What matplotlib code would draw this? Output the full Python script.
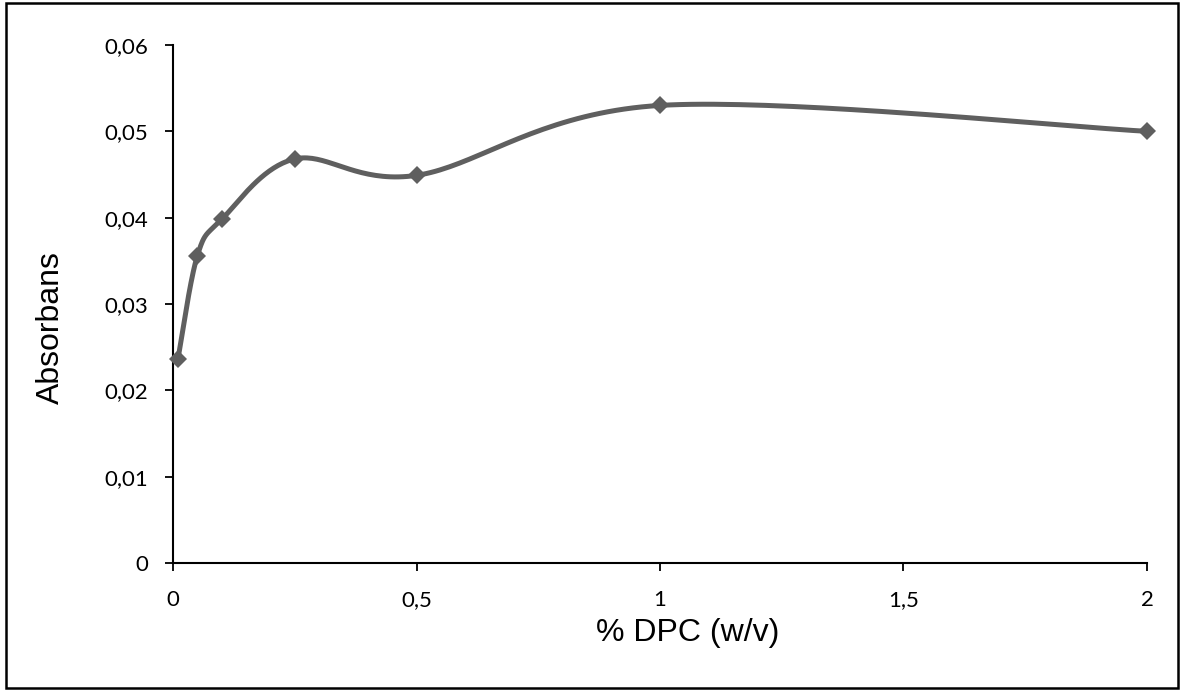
import numpy as np
import matplotlib
matplotlib.use('Agg')
import matplotlib.pyplot as plt
from matplotlib.patches import Rectangle
from matplotlib.ticker import FuncFormatter

# % DPC (w/v) and absorbance
dpc = [0.01, 0.05, 0.1, 0.25, 0.5, 1.0, 2.0]
absorbans = [0.0236, 0.0356, 0.0398, 0.0468, 0.0449, 0.0530, 0.0500]

x_ticks = [0, 0.5, 1, 1.5, 2]
y_ticks = [0, 0.01, 0.02, 0.03, 0.04, 0.05, 0.06]

LINE_COLOR = '#5f5f5f'
TICK_FONT = 'Lato'
LABEL_FONT = 'Liberation Sans'


def smooth_curve(x, y, steps=40):
    # excel-like smoothed line: bezier segments with catmull-rom control points
    x = np.asarray(x, float)
    y = np.asarray(y, float)
    n = len(x)
    xs, ys = [], []
    for i in range(n - 1):
        p0 = np.array([x[max(i - 1, 0)], y[max(i - 1, 0)]])
        p1 = np.array([x[i], y[i]])
        p2 = np.array([x[i + 1], y[i + 1]])
        p3 = np.array([x[min(i + 2, n - 1)], y[min(i + 2, n - 1)]])
        c1 = p1 + (p2 - p0) / 6
        c2 = p2 - (p3 - p1) / 6
        t = np.linspace(0, 1, steps)[:, None]
        pts = ((1 - t) ** 3) * p1 + 3 * ((1 - t) ** 2) * t * c1 \
            + 3 * (1 - t) * t ** 2 * c2 + t ** 3 * p2
        xs.extend(pts[:, 0])
        ys.extend(pts[:, 1])
    return xs, ys


def comma(v, pos):
    s = f'{v:g}'
    return s.replace('.', ',')


fig = plt.figure(figsize=(11.81, 6.91), dpi=100)
ax = fig.add_axes([0.1465, 0.1852, 0.9712 - 0.1465, 0.9349 - 0.1852])

sx, sy = smooth_curve(dpc, absorbans)
ax.plot(sx, sy, color=LINE_COLOR, lw=3.6, solid_capstyle='round', zorder=3)
ax.plot(dpc, absorbans, linestyle='none', marker='D', ms=9.5,
        color=LINE_COLOR, mew=0, zorder=4, clip_on=False)

ax.set_xlim(0, 2)
ax.set_ylim(0, 0.06)
ax.set_xticks(x_ticks)
ax.set_yticks(y_ticks)
ax.xaxis.set_major_formatter(FuncFormatter(comma))
ax.yaxis.set_major_formatter(FuncFormatter(comma))

for s in ['top', 'right']:
    ax.spines[s].set_visible(False)
for s in ['left', 'bottom']:
    ax.spines[s].set_linewidth(1.5)
    ax.spines[s].set_color('black')

ax.tick_params(direction='out', length=5.8, width=1.3, colors='black')
ax.tick_params(axis='x', pad=13.5)
ax.tick_params(axis='y', pad=12)
for lab in ax.get_xticklabels() + ax.get_yticklabels():
    lab.set_fontfamily(TICK_FONT)
    lab.set_fontsize(16)

ax.set_xlabel('% DPC (w/v)', fontsize=23, family=LABEL_FONT, va='center')
ax.set_ylabel('Absorbans', fontsize=23, family=LABEL_FONT, va='center')
ax.xaxis.set_label_coords(0.5287, -0.135)
ax.yaxis.set_label_coords(-0.1253, 0.4537)

# outer chart border
fig.patches.append(Rectangle((6 / 1181, 3 / 691), 1172 / 1181, 685 / 691,
                             transform=fig.transFigure, fill=False,
                             edgecolor='black', lw=1.8))

fig.savefig('out.png', dpi=100)
